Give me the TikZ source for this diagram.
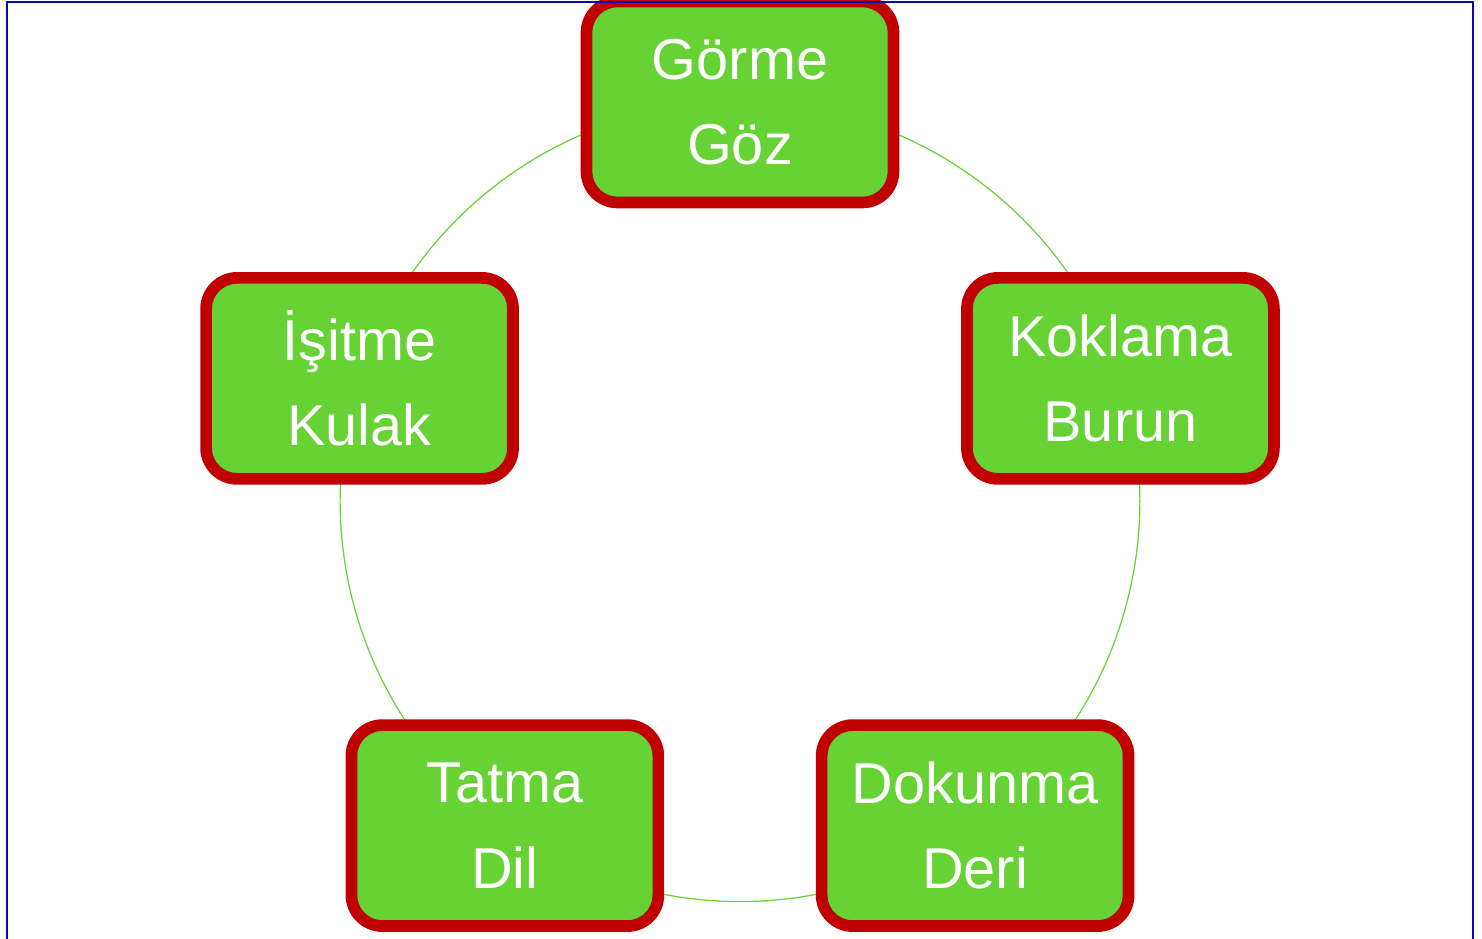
\documentclass[tikz,border=0pt]{standalone}
\usepackage{fontspec}
\setmainfont{Liberation Sans}
\usepackage{tikz}
\usetikzlibrary{positioning,backgrounds}
\definecolor{senseGreen}{RGB}{102,210,51}
\definecolor{senseRed}{RGB}{192,0,0}
\definecolor{frameBlue}{RGB}{10,10,170}

\begin{document}
\begin{tikzpicture}[x=0.02cm,y=0.02cm,bend angle=36,looseness=0.94]%picture #1

      \tikzstyle{sense}=[rectangle,rounded corners=0.62cm,line width=0.234cm,draw=senseRed,
                         fill=senseGreen,minimum width=6.14cm,minimum height=4.02cm,
                         inner sep=0pt,align=center,text=white,
                         font=\fontsize{32.8}{48.5}\selectfont]
      \tikzstyle{link}=[draw=senseGreen,line width=0.7pt]

      \useasboundingbox (0,0) rectangle (1482,939);
      \clip (0,0) rectangle (1482,939);

      \begin{scope}[shift={(740,437)}]

        %the five senses round the circle
        \node [sense] (gorme)   at (90:400)   {Görme\\Göz};
        \node [sense] (koklama) at (18:400)   {Koklama\\Burun};
        \node [sense] (dokunma) at (-54:400)  {Dokunma\\Deri};
        \node [sense] (tatma)   at (-126:400) {Tatma\\Dil};
        \node [sense] (isitme)  at (162:400)  {İşitme\\Kulak};

        %links, behind the boxes
        \begin{scope}[on background layer]
          \draw [link] (gorme.center)   to [bend left] (koklama.center);
          \draw [link] (koklama.center) to [bend left] (dokunma.center);
          \draw [link] (dokunma.center) to [bend left] (tatma.center);
          \draw [link] (tatma.center)   to [bend left] (isitme.center);
          \draw [link] (isitme.center)  to [bend left] (gorme.center);
        \end{scope}
      \end{scope}

      %frame
      \draw [frameBlue,line width=1.2pt] (7,-20) rectangle (1473,937);

\end{tikzpicture}
\end{document}
